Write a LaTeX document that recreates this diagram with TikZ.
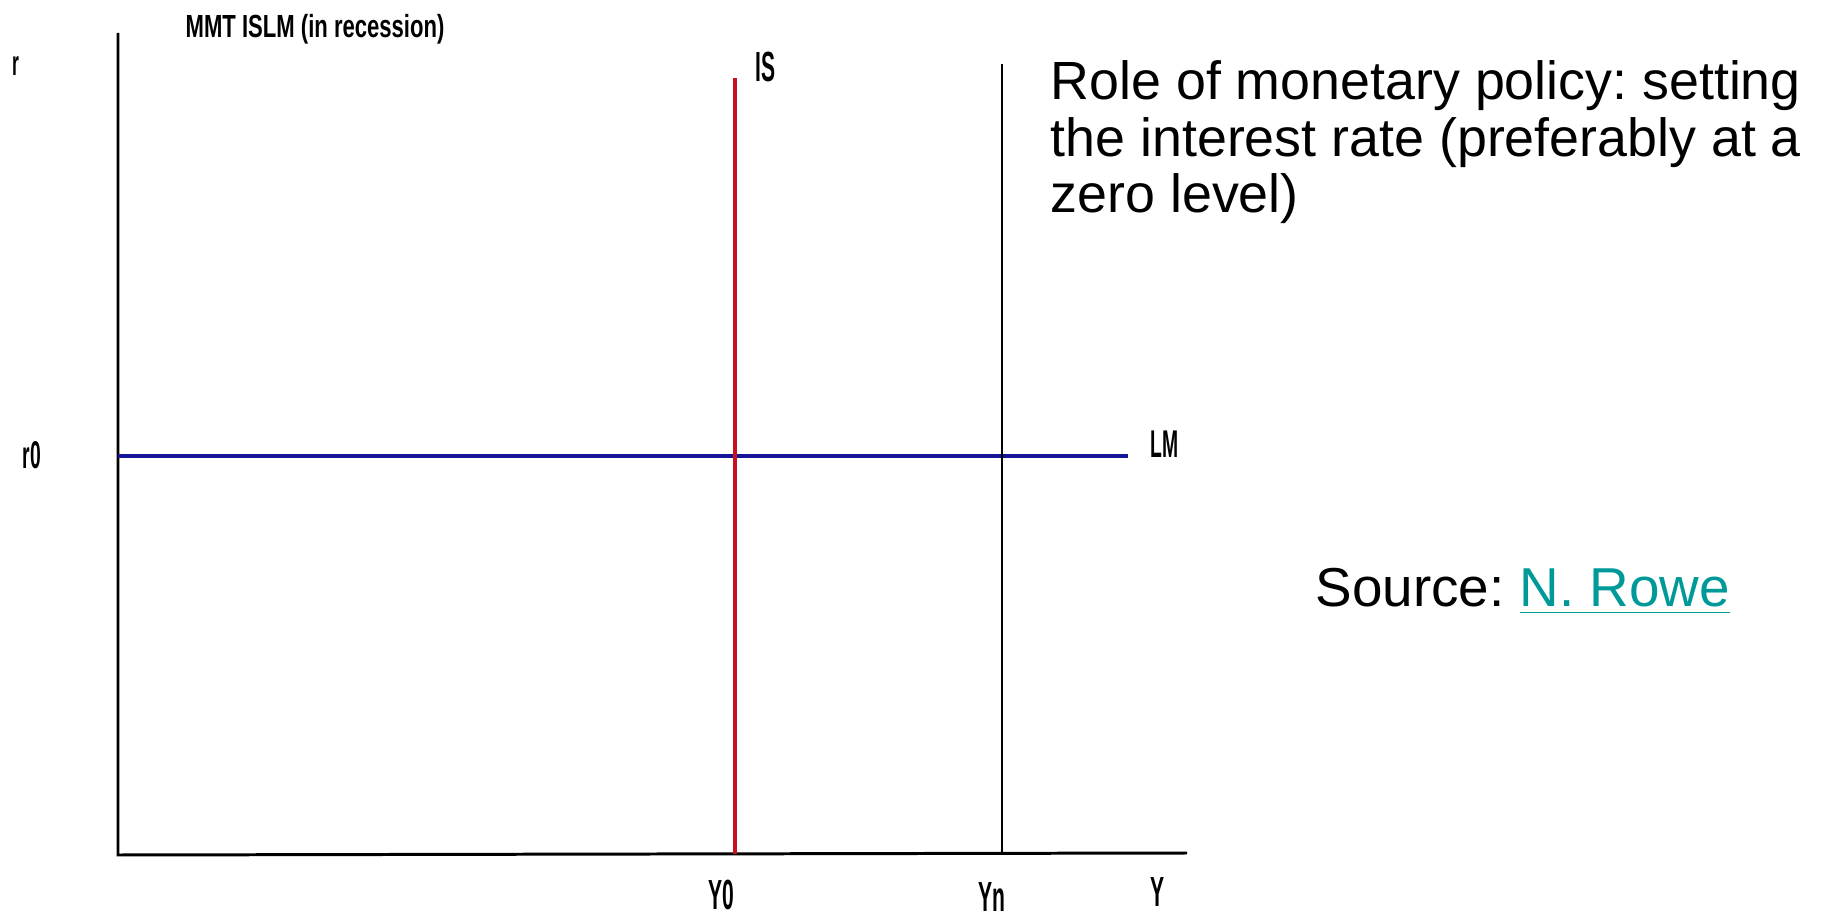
\documentclass[tikz,border=0pt]{standalone}
\usepackage{fontspec}
\setmainfont{Liberation Sans}
\newfontfamily\axisfont[FakeStretch=0.5]{Liberation Sans}
\newfontfamily\titlefont[FakeStretch=0.69]{Liberation Sans}
\definecolor{islmred}{RGB}{200,16,30}
\definecolor{islmblue}{RGB}{20,20,150}
\definecolor{linkteal}{RGB}{0,153,153}
\frenchspacing

\begin{document}
\begin{tikzpicture}[x=0.1mm,y=-0.1mm,
    lbl/.style={inner sep=0pt,anchor=base west,
                font=\axisfont\bfseries\fontsize{12}{12}\selectfont},
    axisline/.style={line width=0.85pt,black},
    note/.style={inner sep=0pt,anchor=base west,align=left,
                 font=\fontsize{15.3}{16.1}\selectfont}]
  \useasboundingbox (0,0) rectangle (1843,915);

  %% axes
  \coordinate (ytop) at (118,33);
  \coordinate (origin) at (118,855);
  \coordinate (xend) at (1187,853);
  \draw[axisline] (ytop) -- (origin) -- (xend);
  \node[lbl,font=\titlefont\bfseries\fontsize{9.1}{9.1}\selectfont] (title) at (185,38)
        {MMT ISLM (in recession)};
  \node[lbl,font=\axisfont\bfseries\fontsize{10}{10}\selectfont] (rlab) at (12,76) {r};
  \node[lbl] (ylab) at (1150,906) {Y};

  %% LM (blue)
  \coordinate (lmA) at (118,456);
  \coordinate (lmB) at (1128,456);
  \draw[islmblue,line width=1.4pt] (lmA) -- (lmB);
  \node[lbl,font=\axisfont\bfseries\fontsize{11}{11}\selectfont] (lm) at (1150,458) {LM};
  \node[lbl,font=\axisfont\bfseries\fontsize{11}{11}\selectfont] (r0) at (22,469) {r0};

  %% IS (red)
  \coordinate (isTop) at (735,78);
  \coordinate (isBot) at (735,854);
  \draw[islmred,line width=1.2pt] (isTop) -- (isBot);
  \node[lbl] (is) at (755,82) {IS};
  \node[lbl] (y0) at (708,909) {Y0};

  %% Yn
  \coordinate (ynTop) at (1002,64);
  \coordinate (ynBot) at (1002,854);
  \draw[line width=0.75pt] (ynTop) -- (ynBot);
  \node[lbl] (yn) at (978,911) {Yn};

  %% text on the right
  \node[note] (role) at (1050,213)
        {Role of monetary policy: setting\\
         the interest rate (preferably at a\\
         zero level)};
  \node[note,font=\fontsize{15.6}{16.1}\selectfont] (source) at (1315,607)
        {Source: \textcolor{linkteal}{\underline{N. Rowe}}};
\end{tikzpicture}
\end{document}
